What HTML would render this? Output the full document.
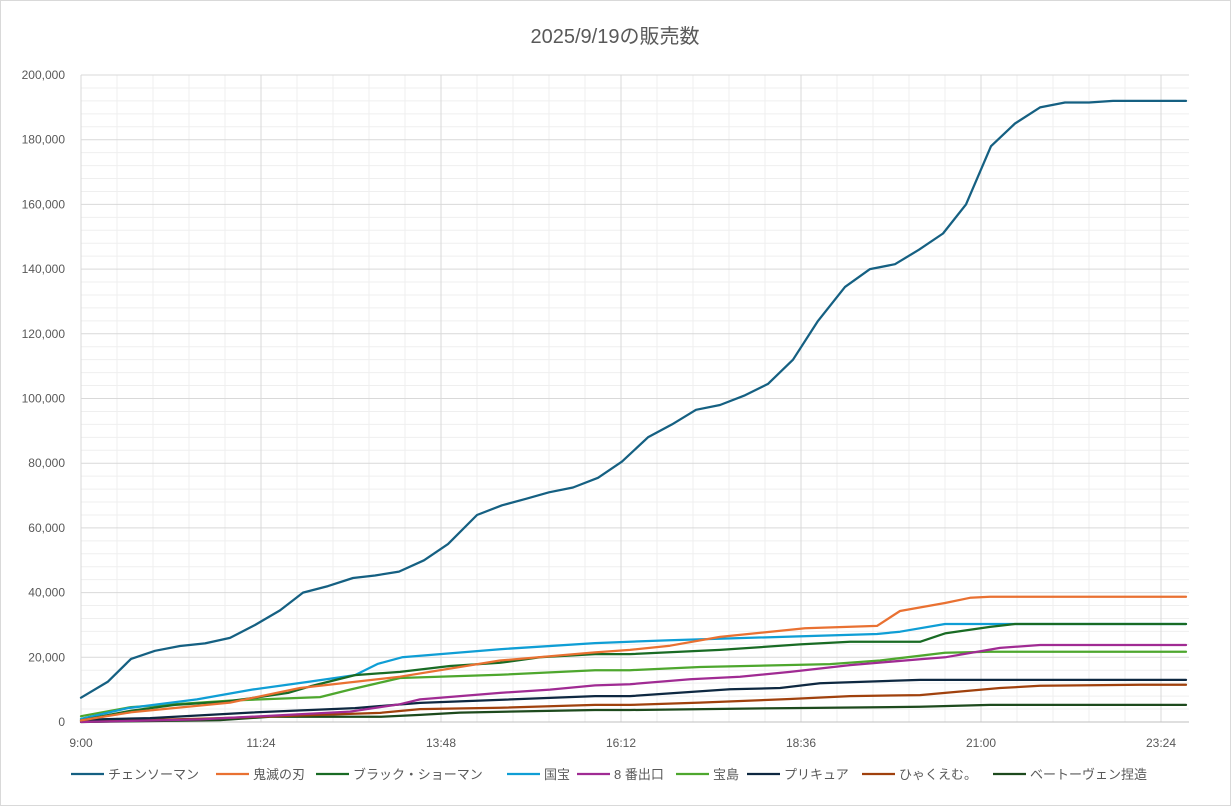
<!DOCTYPE html>
<html><head><meta charset="utf-8"><style>
html,body{margin:0;padding:0;background:#fff}
svg{display:block;font-family:"Liberation Sans","Noto Sans CJK JP",sans-serif}
</style></head><body>
<svg id="c" width="1231" height="806" xmlns="http://www.w3.org/2000/svg">
<rect x="0.5" y="0.5" width="1230" height="805" fill="#fff" stroke="#d9d9d9"/>
<text x="615" y="43" text-anchor="middle" font-size="20" fill="#595959">2025/9/19の販売数</text>
<g id="grid"></g><g id="lines"></g><g id="labels"></g><g id="legend"></g>
</svg>
<script>
const NS="http://www.w3.org/2000/svg";
function el(p,t,a,txt){const e=document.createElementNS(NS,t);for(const k in a)e.setAttribute(k,a[k]);if(txt!==undefined)e.textContent=txt;p.appendChild(e);return e;}
const g=document.getElementById('grid'),L=document.getElementById('labels'),ln=document.getElementById('lines'),lg=document.getElementById('legend');
const X0=81,X1=1189,Y0=722,S=3.235;
function Y(v){return Y0-v*S;}
for(let v=4;v<=200;v+=4){if(v%20)el(g,'line',{x1:X0,x2:X1,y1:Y(v),y2:Y(v),stroke:'#efefef'});}
for(let x=X0+36;x<=X1;x+=36){if((x-X0)%180)el(g,'line',{x1:x,x2:x,y1:Y(200),y2:Y0,stroke:'#efefef'});}
for(let v=20;v<=200;v+=20)el(g,'line',{x1:X0,x2:X1,y1:Y(v),y2:Y(v),stroke:'#d9d9d9'});
for(let x=X0+180;x<=X1;x+=180)el(g,'line',{x1:x,x2:x,y1:Y(200),y2:Y0,stroke:'#d9d9d9'});
el(g,'line',{x1:X0,x2:X0,y1:Y(200),y2:Y0,stroke:'#d9d9d9'});
el(g,'line',{x1:X0,x2:X1,y1:Y0,y2:Y0,stroke:'#bfbfbf'});
for(let v=0;v<=200;v+=20)el(L,'text',{x:65,y:Y(v)+4,'text-anchor':'end','font-size':12,fill:'#595959'},v===0?'0':(v>=100?String(v).slice(0,v>=100?3:2):String(v))+',000');
const xl=['9:00','11:24','13:48','16:12','18:36','21:00','23:24'];
xl.forEach((t,i)=>el(L,'text',{x:X0+i*180,y:747,'text-anchor':'middle','font-size':12,fill:'#595959'},t));
const cs=[[81,7.5],[108,12.5],[131,19.5],[155,22],[180,23.5],[205,24.3],[230,26],[255,30],[280,34.5],[303,40],[328,42],[353,44.5],[375,45.3],[399,46.5],[424,50],[448,55],[477,64],[502,67],[526,69],[549,71],[573,72.5],[598,75.5],[622,80.5],[648,88],[672,92],[696,96.5],[720,98],[745,101],[768,104.5],[793,112],[818,124],[845,134.5],[870,140],[895,141.5],[919,146],[943,151],[966,160],[991,178],[1015,185],[1040,190],[1065,191.5],[1089,191.5],[1113,192],[1186,192]];
const series=[
['チェンソーマン','#156082',cs],
['鬼滅の刃','#e97132',[[81,0.5],[131,3],[230,6],[300,10.5],[400,14],[500,19],[595,21.5],[630,22.3],[670,23.6],[720,26.3],[805,29],[877,29.7],[900,34.3],[945,36.8],[970,38.4],[990,38.7],[1186,38.7]]],
['ブラック・ショーマン','#196b24',[[81,0.5],[131,3.5],[175,5.3],[225,6.3],[250,7.3],[288,9],[310,11],[355,14.5],[400,15.5],[450,17.3],[500,18.3],[540,20],[595,21],[630,21],[720,22.3],[800,24],[850,24.8],[920,24.8],[945,27.4],[990,29.4],[1015,30.3],[1186,30.3]]],
['国宝','#0f9ed5',[[81,1],[128,4.3],[197,7],[252,10],[308,12.4],[355,14.5],[378,18],[402,20],[500,22.5],[595,24.4],[670,25.3],[877,27.2],[900,27.9],[945,30.3],[1186,30.3]]],
['8 番出口','#a02b93',[[81,0],[200,0.8],[250,1.6],[350,3.2],[400,5.5],[420,7],[500,9],[550,10],[595,11.3],[630,11.7],[690,13.2],[740,14],[790,15.5],[850,17.6],[920,19.4],[945,20],[1000,22.9],[1040,23.8],[1186,23.8]]],
['宝島','#4ea72e',[[81,1.8],[131,4.6],[230,6.6],[320,7.7],[350,10],[400,13.6],[500,14.6],[595,16],[630,16],[700,17],[830,17.9],[880,19],[945,21.4],[990,21.7],[1186,21.7]]],
['プリキュア','#0e2841',[[81,0.7],[150,1.2],[250,2.9],[355,4.3],[420,5.9],[595,8],[630,8],[730,10.1],[780,10.5],[820,12],[920,13],[1186,13]]],
['ひゃくえむ。','#a0410d',[[81,0.2],[200,1],[300,2],[380,2.8],[420,4],[500,4.4],[595,5.3],[630,5.3],[700,6],[790,7.1],[850,8],[920,8.3],[945,9],[1000,10.5],[1040,11.2],[1140,11.5],[1186,11.5]]],
['ベートーヴェン捏造','#1d4a1d',[[81,0],[220,0.6],[270,1.6],[380,1.6],[420,2.2],[460,2.9],[595,3.7],[630,3.7],[790,4.3],[920,4.7],[990,5.3],[1186,5.3]]]
];
for(let i=series.length-1;i>=0;i--){const s=series[i];el(ln,'polyline',{points:s[2].map(p=>p[0]+','+Y(p[1]).toFixed(1)).join(' '),fill:'none',stroke:s[1],'stroke-width':2.25,'stroke-linejoin':'round','stroke-linecap':'round'});}
const lx=[71,216,316,507,577,676,747,862,993];
series.forEach((s,i)=>{el(lg,'line',{x1:lx[i],x2:lx[i]+33,y1:774,y2:774,stroke:s[1],'stroke-width':2.25});el(lg,'text',{x:lx[i]+37,y:779,'font-size':13,fill:'#595959'},s[0]);});
</script>
</body></html>
